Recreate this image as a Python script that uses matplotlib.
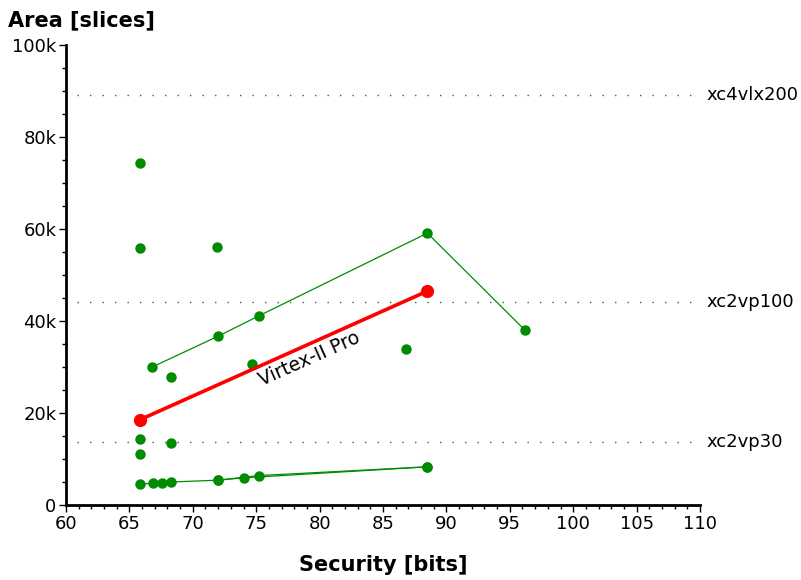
import matplotlib
matplotlib.use("Agg")
import matplotlib.pyplot as plt
from matplotlib.ticker import MultipleLocator, FuncFormatter

plt.rcParams['font.family'] = ['DejaVu Sans']

# Scatter points (security bits, area slices)
pts_x = [65.8, 65.8, 71.9, 68.3, 74.7, 86.8, 65.8, 68.3, 65.8]
pts_y = [74300, 55900, 56100, 27800, 30700, 33900, 14300, 13500, 11100]

# Upper green line
upper_x = [66.8, 72.0, 75.2, 88.5, 96.2]
upper_y = [30000, 36700, 41100, 59100, 38000]

# Lower green lines
lowA_x = [65.8, 66.9, 67.6, 68.3, 72.0, 74.0, 88.5]
lowA_y = [4600, 4700, 4800, 5000, 5400, 5900, 8300]
lowB_x = [72.0, 75.2, 88.5]
lowB_y = [5400, 6400, 8300]

# Red Virtex-II Pro line
red_x = [65.8, 88.5]
red_y = [18500, 46500]

# Device capacities
dev_names = ['xc4vlx200', 'xc2vp100', 'xc2vp30']
dev_area = [89088, 44096, 13696]

green = '#008c00'

fig = plt.figure(figsize=(8.01, 5.80), dpi=100)
ax = fig.add_axes([66/801, 1-505/580, (700-66)/801, (505-45)/580])

for name, a in zip(dev_names, dev_area):
    ax.plot([60.9, 110], [a, a], linestyle=(0, (1, 8)), color='#555555', lw=1.0)
    ax.text(110.5, a, name, va='center', ha='left', fontsize=13, clip_on=False)

ax.plot(upper_x, upper_y, '-o', color=green, lw=0.9, ms=6.5, clip_on=False)
ax.plot(lowA_x, lowA_y, '-o', color=green, lw=0.9, ms=6.5)
ax.plot(lowB_x, lowB_y, '-o', color=green, lw=0.9, ms=6.5)
ax.plot(pts_x, pts_y, 'o', color=green, ms=6.5, lw=0)
ax.plot(red_x, red_y, '-o', color='red', lw=2.6, ms=8.5, zorder=5)

ax.text(79.2, 31800, 'Virtex-II Pro', rotation=24, ha='center', va='center',
        fontsize=13.5, rotation_mode='anchor')

ax.set_xlim(60, 110)
ax.set_ylim(0, 100000)
ax.xaxis.set_major_locator(MultipleLocator(5))
ax.xaxis.set_minor_locator(MultipleLocator(1))
ax.yaxis.set_major_locator(MultipleLocator(20000))
ax.yaxis.set_minor_locator(MultipleLocator(5000))
ax.yaxis.set_major_formatter(FuncFormatter(lambda v, p: '0' if v == 0 else f'{int(v/1000)}k'))

for s in ['top', 'right']:
    ax.spines[s].set_visible(False)
for s in ['left', 'bottom']:
    ax.spines[s].set_linewidth(2.0)

ax.tick_params(which='major', direction='out', length=5, width=1.0, labelsize=13, pad=2)
ax.tick_params(which='minor', direction='out', length=3, width=1.0)

fig.text(8/801, 1-20/580, 'Area [slices]', fontsize=15, fontweight='bold', va='center', ha='left')
fig.text(383/801, 1-565/580, 'Security [bits]', fontsize=15, fontweight='bold', va='center', ha='center')

fig.savefig('out.png', dpi=100)
